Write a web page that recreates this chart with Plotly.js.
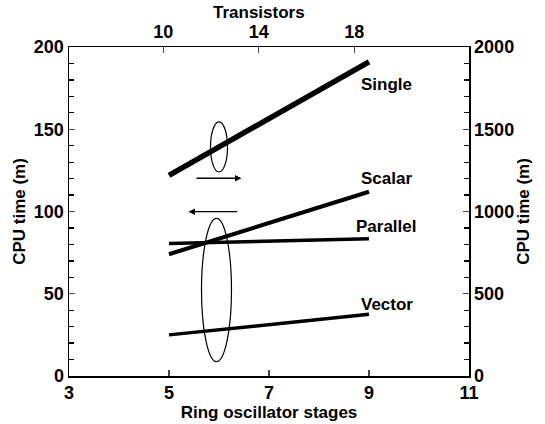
<!DOCTYPE html>
<html>
<head>
<meta charset="utf-8">
<script src="https://cdn.plot.ly/plotly-3.0.1.min.js"></script>
<style>html,body{margin:0;padding:0;background:#fff;}#chart{width:545px;height:424px;}</style>
</head>
<body>
<div id="chart"></div>
<script>
// Data
const stages = [5, 9];
const single = [122, 191];
const scalar = [74, 112];
const parallel = [80.5, 83.5];
const vector = [25, 37.5];
const seriesNames = ["Single", "Scalar", "Parallel", "Vector"];
const labelY = [177.5, 120, 91, 43.5];
const transistorTicks = [10, 14, 18];
const leftTicks = [0, 50, 100, 150, 200];
const rightTicks = [0, 500, 1000, 1500, 2000];
const stageTicks = [3, 5, 7, 9, 11];

const FONT = "Liberation Sans, Arial, Helvetica, sans-serif";
const tickFont = {family: FONT, size: 18, color: "#000", weight: "bold"};
const titleFont = {family: FONT, size: 17, color: "#000", weight: "bold"};

const series = [single, scalar, parallel, vector];
const widths = [5.5, 4, 3.5, 3.5];
const traces = series.map((vals, i) => ({
  x: stages, y: vals, type: "scatter", mode: "lines",
  line: {color: "#000", width: widths[i]}, name: seriesNames[i],
  showlegend: false, hoverinfo: "skip"
}));
// invisible trace to anchor the secondary axes
traces.push({x: transistorTicks, y: rightTicks.slice(0,3), xaxis: "x2", yaxis: "y2",
  type: "scatter", mode: "markers", marker: {opacity: 0}, showlegend: false, hoverinfo: "skip"});

const annotations = seriesNames.map((n, i) => ({
  x: 9.35, y: labelY[i], xref: "x", yref: "y", text: n, showarrow: false,
  font: {family: FONT, size: 17, color: "#000", weight: "bold"}
}));
// top axis title (sits left of the plot centre in the reference)
annotations.push({x: 14, y: 1, xref: "x2", yref: "paper", yanchor: "middle", yshift: 35, text: "Transistors",
  showarrow: false, font: titleFont});
// arrows
annotations.push({x: 6.45, y: 120.2, ax: 5.52, ay: 120.2, xref: "x", yref: "y", axref: "x", ayref: "y",
  text: "", showarrow: true, arrowhead: 2, arrowsize: 1, arrowwidth: 1.3, arrowcolor: "#000"});
annotations.push({x: 5.39, y: 99.9, ax: 6.39, ay: 99.9, xref: "x", yref: "y", axref: "x", ayref: "y",
  text: "", showarrow: true, arrowhead: 2, arrowsize: 1, arrowwidth: 1.3, arrowcolor: "#000"});

const shapes = [
  {type: "circle", xref: "x", yref: "y", x0: 5.83, x1: 6.17, y0: 124, y1: 154.5, line: {color: "#000", width: 1.2}},
  {type: "circle", xref: "x", yref: "y", x0: 5.65, x1: 6.25, y0: 8.7, y1: 95.8, line: {color: "#000", width: 1.2}}
];

const layout = {
  width: 545, height: 424,
  margin: {l: 69, r: 76, t: 47, b: 48},
  paper_bgcolor: "#fff", plot_bgcolor: "#fff",
  showlegend: false,
  xaxis: {
    range: [3, 11], tickvals: stageTicks, ticks: "inside", ticklen: 6, tickwidth: 1.3,
    showline: true, linecolor: "#000", linewidth: 1.5, showgrid: false, zeroline: false,
    tickfont: tickFont, title: {text: "Ring oscillator stages", font: titleFont, standoff: 0}
  },
  xaxis2: {
    overlaying: "x", side: "top", anchor: "y",
    range: [6.06, 22.8], tickvals: transistorTicks, ticks: "inside", ticklen: 6, tickwidth: 1.3,
    showline: true, linecolor: "#000", linewidth: 1.5, showgrid: false, zeroline: false,
    tickfont: tickFont
  },
  yaxis: {
    range: [0, 200], tickvals: leftTicks, ticks: "inside", ticklen: 6, tickwidth: 1.3,
    minor: {dtick: 10, ticks: "inside", ticklen: 5, tickwidth: 1.3, tickcolor: "#000", showgrid: false},
    showline: true, linecolor: "#000", linewidth: 1.5, showgrid: false, zeroline: false,
    tickfont: tickFont, title: {text: "CPU time (m)", font: titleFont, standoff: 4}
  },
  yaxis2: {
    overlaying: "y", side: "right", anchor: "x",
    range: [0, 2000], tickvals: rightTicks, ticks: "inside", ticklen: 6, tickwidth: 1.3,
    minor: {dtick: 100, ticks: "inside", ticklen: 5, tickwidth: 1.3, tickcolor: "#000", showgrid: false},
    showline: true, linecolor: "#000", linewidth: 1.5, showgrid: false, zeroline: false,
    tickfont: tickFont, title: {text: "CPU time (m)", font: titleFont, standoff: 4}
  },
  annotations: annotations,
  shapes: shapes
};

Plotly.newPlot("chart", traces, layout, {staticPlot: true, displayModeBar: false});
</script>
</body>
</html>
